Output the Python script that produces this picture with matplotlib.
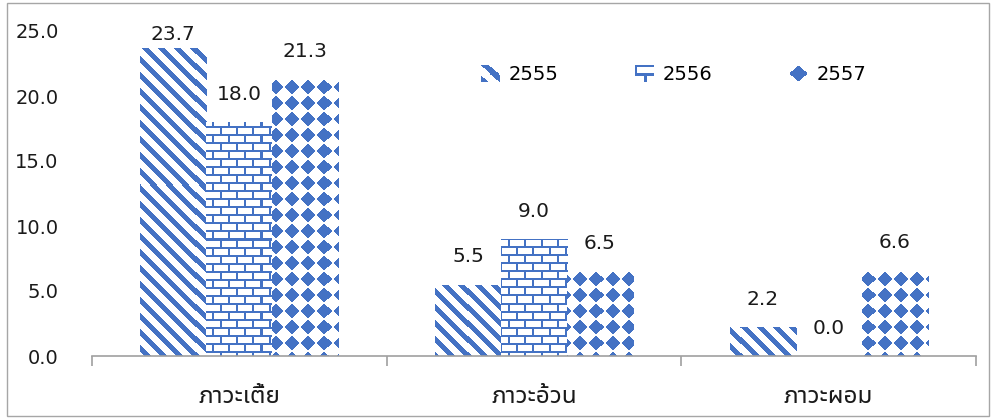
import numpy as np
import matplotlib
matplotlib.use("Agg")
import matplotlib.pyplot as plt
from matplotlib import font_manager, ft2font
from matplotlib.patches import Rectangle
from matplotlib.legend_handler import HandlerBase
from matplotlib.image import BboxImage
from matplotlib.transforms import Bbox, TransformedBbox

# === DATA ===
categories = ["ภาวะเตี้ย", "ภาวะอ้วน", "ภาวะผอม"]
years = ["2555", "2556", "2557"]
val_2555 = [23.7, 5.5, 2.2]
val_2556 = [18.0, 9.0, 0.0]
val_2557 = [21.3, 6.5, 6.6]

BLUE = np.array([68, 114, 196]) / 255.0
W, H = 995, 419
DPI = 100


def thai_family():
    # installed families that carry Thai glyphs; prefer a loopless sans
    found = []
    for f in font_manager.fontManager.ttflist:
        try:
            if ord("ภ") in ft2font.FT2Font(f.fname).get_charmap():
                found.append(f.name)
        except Exception:
            pass
    if not found:
        return "DejaVu Sans"
    for key in ["Noto Sans Thai", "Sarabun", "Sans Thai"]:
        for name in found:
            if key in name and "Looped" not in name:
                return name
    return found[0]


THAI = thai_family()
plt.rcParams["font.family"] = [THAI, "DejaVu Sans"]


# --- 16px fill patterns (mask: True = blue) ---
def diag_mask(h, w):
    r, c = np.mgrid[0:h, 0:w]
    return ((c - r) % 16) < 7


def brick_mask(h, w):
    r, c = np.mgrid[0:h, 0:w]
    horiz = (r % 8) < 2
    shift = np.where((r // 8) % 2 == 0, 0, 8)
    vert = ((c + shift) % 16) < 2
    return horiz | vert


def diamond_mask(h, w):
    r, c = np.mgrid[0:h, 0:w]
    dr = np.abs((r % 16) - 7.5)
    dc = np.abs((c % 16) - 7.5)
    return (dr + dc <= 7.5) & (dr <= 6.5) & (dc <= 6.5)


def to_rgb(mask):
    img = np.ones(mask.shape + (3,))
    img[mask] = BLUE
    return img


masks = [diag_mask, brick_mask, diamond_mask]
series = [val_2555, val_2556, val_2557]

fig = plt.figure(figsize=(W / DPI, H / DPI), dpi=DPI)
ax = fig.add_axes([92 / W, 63 / H, 884 / W, 325 / H])
ax.set_xlim(-0.5, 2.5)
ax.set_ylim(0, 25)

ax_w, ax_h = 884, 325
x = np.arange(len(categories))
bw = 0.224

for i, (vals, mk) in enumerate(zip(series, masks)):
    bars = ax.bar(x + (i - 1) * bw, vals, width=bw, color="none",
                  edgecolor="none", label=years[i])
    fill = to_rgb(mk(ax_h, ax_w))
    for b, v in zip(bars, vals):
        im = ax.imshow(fill, extent=(-0.5, 2.5, 0, 25), aspect="auto",
                       interpolation="nearest", zorder=1)
        im.set_clip_path(b)
        # value label above the bar, kept inside the plot area
        ly = min(v + 2.15, 24.7)
        ax.text(b.get_x() + bw / 2, ly, f"{v:.1f}", ha="center",
                va="center", fontsize=14.5, color="#1a1a1a",
                family=["DejaVu Sans"])

ax.set_xlim(-0.5, 2.5)
ax.set_ylim(0, 25)

# axes styling
for s in ["left", "right", "top"]:
    ax.spines[s].set_visible(False)
ax.spines["bottom"].set_color("#A0A0A0")
ax.spines["bottom"].set_linewidth(1.2)

ax.set_yticks(np.arange(0, 26, 5))
ax.set_yticklabels([f"{t:.1f}" for t in np.arange(0, 26, 5)],
                   family=["DejaVu Sans"])
ax.tick_params(axis="y", length=0, pad=24, labelsize=14, labelcolor="#1a1a1a")

ax.set_xticks(x)
ax.set_xticklabels(categories)
ax.set_xticks([-0.5, 0.5, 1.5, 2.5], minor=True)
ax.tick_params(axis="x", which="major", length=0, pad=20, labelsize=17.5,
               labelcolor="#1a1a1a")
ax.tick_params(axis="x", which="minor", length=7, color="#A0A0A0", width=1.2)


class PatternHandler(HandlerBase):
    def __init__(self, mask_fn):
        super().__init__()
        self.tile = to_rgb(mask_fn(16, 16))

    def create_artists(self, legend, orig_handle, xdescent, ydescent,
                       width, height, fontsize, trans):
        bb = Bbox.from_bounds(-xdescent, -ydescent, width, height)
        im = BboxImage(TransformedBbox(bb, trans), interpolation="nearest")
        im.set_data(self.tile)
        return [im]


handles, labels = ax.get_legend_handles_labels()
ax.legend(handles, labels, ncol=3, loc="center",
          bbox_to_anchor=(0.658, 0.865), frameon=False,
          handlelength=0.95, handleheight=0.95, handletextpad=0.5,
          columnspacing=3.9,
          handler_map={h: PatternHandler(m) for h, m in zip(handles, masks)},
          prop={"family": "DejaVu Sans", "size": 14})

# thin grey frame around the whole chart
fig.patches.append(Rectangle((7 / W, 3 / H), 982 / W, 413 / H,
                             transform=fig.transFigure, fill=False,
                             edgecolor="#A6A6A6", linewidth=1))

fig.savefig("out.png", dpi=DPI)
